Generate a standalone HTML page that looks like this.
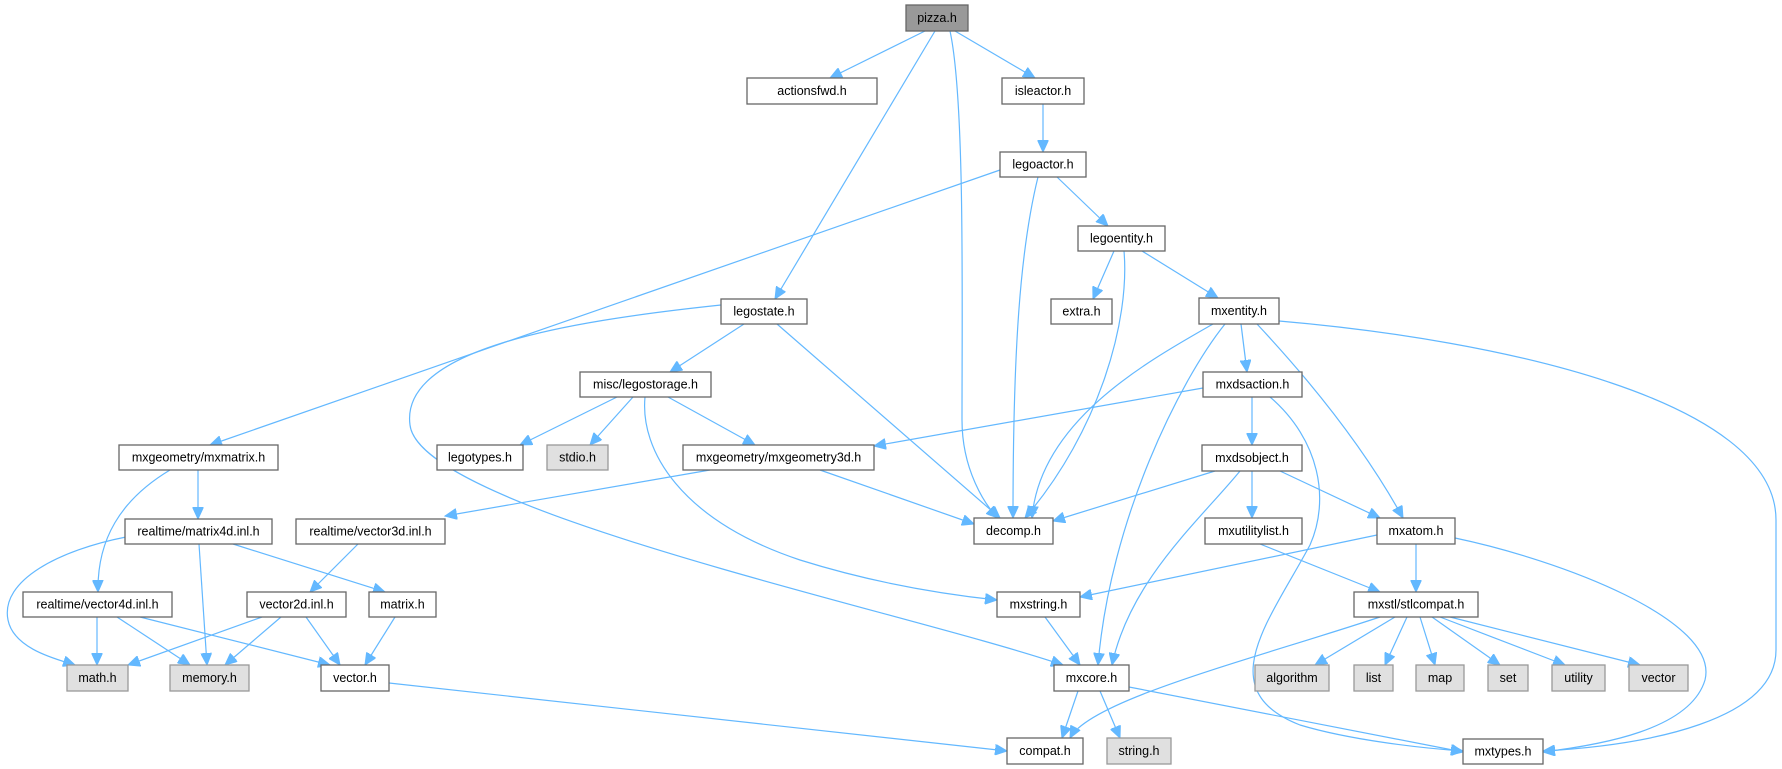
<!DOCTYPE html>
<html><head><meta charset="utf-8"><style>
html,body{margin:0;padding:0;background:#fff;}
svg{display:block;}
text{font-family:"Liberation Sans",Arial,sans-serif;font-size:12.5px;fill:#000;text-anchor:middle;dominant-baseline:central;}
.e{fill:none;stroke:#63b8ff;stroke-width:1.2;marker-end:url(#a);}
.n{fill:#fff;stroke:#666;stroke-width:1.3;}
.g{fill:#e0e0e0;stroke:#999;stroke-width:1.3;}
</style></head><body>
<svg width="1782" height="769" viewBox="0 0 1782 769" xmlns="http://www.w3.org/2000/svg">
<defs><marker id="a" markerUnits="userSpaceOnUse" markerWidth="13" markerHeight="11" refX="12" refY="5.5" orient="auto"><path d="M0,0 L12,5.5 L0,11 z" fill="#63b8ff" stroke="#63b8ff"/></marker></defs>
<g>
<path class="e" d="M925,31 L830,78"/>
<path class="e" d="M935,31 L775,299"/>
<path class="e" d="M950,31 C965,100 962,300 962,420 C962,470 985,505 998,518"/>
<path class="e" d="M955,31 L1035,78"/>
<path class="e" d="M1043,104 L1043,152"/>
<path class="e" d="M1000,170 L210,445"/>
<path class="e" d="M1038,177 C1020,250 1013,350 1013,518"/>
<path class="e" d="M1057,177 L1108,226"/>
<path class="e" d="M1114,251 L1093,299"/>
<path class="e" d="M1124,251 C1130,320 1100,430 1025,518"/>
<path class="e" d="M1142,251 L1218,298"/>
<path class="e" d="M721,305 C560,322 400,350 410,425 C420,510 900,610 1063,665"/>
<path class="e" d="M744,324 L670,372"/>
<path class="e" d="M777,324 L1000,518"/>
<path class="e" d="M1213,324 C1150,360 1040,420 1032,518"/>
<path class="e" d="M1225,324 C1180,380 1110,520 1098,665"/>
<path class="e" d="M1241,324 L1247,372"/>
<path class="e" d="M1257,324 C1300,370 1360,440 1403,518"/>
<path class="e" d="M1279,321 C1500,340 1776,400 1776,520 L1776,650 C1776,720 1650,745 1543,751"/>
<path class="e" d="M617,397 L520,445"/>
<path class="e" d="M633,397 L590,445"/>
<path class="e" d="M668,397 L755,445"/>
<path class="e" d="M645,397 C640,450 680,520 800,560 C880,585 950,595 997,600"/>
<path class="e" d="M1203,388 L874,446"/>
<path class="e" d="M1252,397 L1252,445"/>
<path class="e" d="M1270,397 C1320,440 1330,500 1310,545 C1270,620 1210,690 1300,725 C1350,740 1420,748 1463,751"/>
<path class="e" d="M710,470 L445,516"/>
<path class="e" d="M820,470 L974,524"/>
<path class="e" d="M1215,471 L1053,521"/>
<path class="e" d="M1240,471 C1200,520 1130,580 1112,665"/>
<path class="e" d="M1252,471 L1252,518"/>
<path class="e" d="M1280,471 L1380,518"/>
<path class="e" d="M170,470 C120,500 97,540 98,592"/>
<path class="e" d="M198,470 L198,519"/>
<path class="e" d="M126,537 C60,550 0,580 8,620 C14,650 60,660 75,665"/>
<path class="e" d="M199,544 L207,665"/>
<path class="e" d="M233,544 L385,592"/>
<path class="e" d="M358,544 L310,592"/>
<path class="e" d="M97,617 L97,665"/>
<path class="e" d="M117,617 L190,665"/>
<path class="e" d="M140,617 L330,665"/>
<path class="e" d="M262,617 L128,665"/>
<path class="e" d="M281,617 L225,665"/>
<path class="e" d="M306,617 L340,665"/>
<path class="e" d="M395,617 L365,665"/>
<path class="e" d="M1377,535 L1080,597"/>
<path class="e" d="M1416,544 L1416,592"/>
<path class="e" d="M1455,538 C1560,560 1720,620 1705,680 C1690,730 1600,745 1543,752"/>
<path class="e" d="M1260,544 L1380,592"/>
<path class="e" d="M1045,617 L1080,665"/>
<path class="e" d="M1395,617 L1315,665"/>
<path class="e" d="M1407,617 L1385,665"/>
<path class="e" d="M1420,617 L1435,665"/>
<path class="e" d="M1432,617 L1500,665"/>
<path class="e" d="M1440,617 L1565,665"/>
<path class="e" d="M1450,617 L1640,665"/>
<path class="e" d="M1380,617 C1250,660 1090,700 1070,738"/>
<path class="e" d="M389,683 L1007,751"/>
<path class="e" d="M1078,691 L1062,738"/>
<path class="e" d="M1100,691 L1120,738"/>
<path class="e" d="M1129,687 L1463,752"/>
</g>
<g>
<rect x="906" y="5" width="62" height="26" fill="#999" stroke="#666" stroke-width="1.3"/><text x="937" y="18">pizza.h</text>
<rect class="n" x="747" y="78" width="130" height="26"/><text x="812" y="91">actionsfwd.h</text>
<rect class="n" x="1002" y="78" width="82" height="26"/><text x="1043" y="91">isleactor.h</text>
<rect class="n" x="1000" y="152" width="86" height="25"/><text x="1043" y="164.5">legoactor.h</text>
<rect class="n" x="1078" y="226" width="87" height="25"/><text x="1121.5" y="238.5">legoentity.h</text>
<rect class="n" x="721" y="299" width="86" height="25"/><text x="764" y="311.5">legostate.h</text>
<rect class="n" x="1051" y="299" width="61" height="25"/><text x="1081.5" y="311.5">extra.h</text>
<rect class="n" x="1199" y="298" width="80" height="26"/><text x="1239" y="311">mxentity.h</text>
<rect class="n" x="580" y="372" width="131" height="25"/><text x="645.5" y="384.5">misc/legostorage.h</text>
<rect class="n" x="1203" y="372" width="99" height="25"/><text x="1252.5" y="384.5">mxdsaction.h</text>
<rect class="n" x="119" y="445" width="159" height="25"/><text x="198.5" y="457.5">mxgeometry/mxmatrix.h</text>
<rect class="n" x="437" y="445" width="86" height="25"/><text x="480" y="457.5">legotypes.h</text>
<rect class="g" x="547" y="445" width="61" height="25"/><text x="577.5" y="457.5">stdio.h</text>
<rect class="n" x="683" y="445" width="191" height="25"/><text x="778.5" y="457.5">mxgeometry/mxgeometry3d.h</text>
<rect class="n" x="1202" y="445" width="100" height="26"/><text x="1252" y="458">mxdsobject.h</text>
<rect class="n" x="125" y="519" width="147" height="25"/><text x="198.5" y="531.5">realtime/matrix4d.inl.h</text>
<rect class="n" x="296" y="519" width="149" height="25"/><text x="370.5" y="531.5">realtime/vector3d.inl.h</text>
<rect class="n" x="974" y="518" width="79" height="26"/><text x="1013.5" y="531">decomp.h</text>
<rect class="n" x="1205" y="518" width="97" height="26"/><text x="1253.5" y="531">mxutilitylist.h</text>
<rect class="n" x="1377" y="518" width="78" height="26"/><text x="1416" y="531">mxatom.h</text>
<rect class="n" x="23" y="592" width="149" height="25"/><text x="97.5" y="604.5">realtime/vector4d.inl.h</text>
<rect class="n" x="247" y="592" width="99" height="25"/><text x="296.5" y="604.5">vector2d.inl.h</text>
<rect class="n" x="369" y="592" width="67" height="25"/><text x="402.5" y="604.5">matrix.h</text>
<rect class="n" x="997" y="592" width="83" height="25"/><text x="1038.5" y="604.5">mxstring.h</text>
<rect class="n" x="1354" y="592" width="124" height="25"/><text x="1416" y="604.5">mxstl/stlcompat.h</text>
<rect class="g" x="67" y="665" width="61" height="26"/><text x="97.5" y="678">math.h</text>
<rect class="g" x="170" y="665" width="79" height="26"/><text x="209.5" y="678">memory.h</text>
<rect class="n" x="321" y="665" width="68" height="26"/><text x="355" y="678">vector.h</text>
<rect class="n" x="1054" y="665" width="75" height="26"/><text x="1091.5" y="678">mxcore.h</text>
<rect class="g" x="1255" y="665" width="74" height="26"/><text x="1292" y="678">algorithm</text>
<rect class="g" x="1354" y="665" width="39" height="26"/><text x="1373.5" y="678">list</text>
<rect class="g" x="1416" y="665" width="48" height="26"/><text x="1440" y="678">map</text>
<rect class="g" x="1488" y="665" width="40" height="26"/><text x="1508" y="678">set</text>
<rect class="g" x="1552" y="665" width="53" height="26"/><text x="1578.5" y="678">utility</text>
<rect class="g" x="1629" y="665" width="59" height="26"/><text x="1658.5" y="678">vector</text>
<rect class="n" x="1007" y="738" width="76" height="26"/><text x="1045" y="751">compat.h</text>
<rect class="g" x="1107" y="738" width="64" height="26"/><text x="1139" y="751">string.h</text>
<rect class="n" x="1463" y="739" width="80" height="25"/><text x="1503" y="751.5">mxtypes.h</text>
</g>
</svg>
</body></html>
